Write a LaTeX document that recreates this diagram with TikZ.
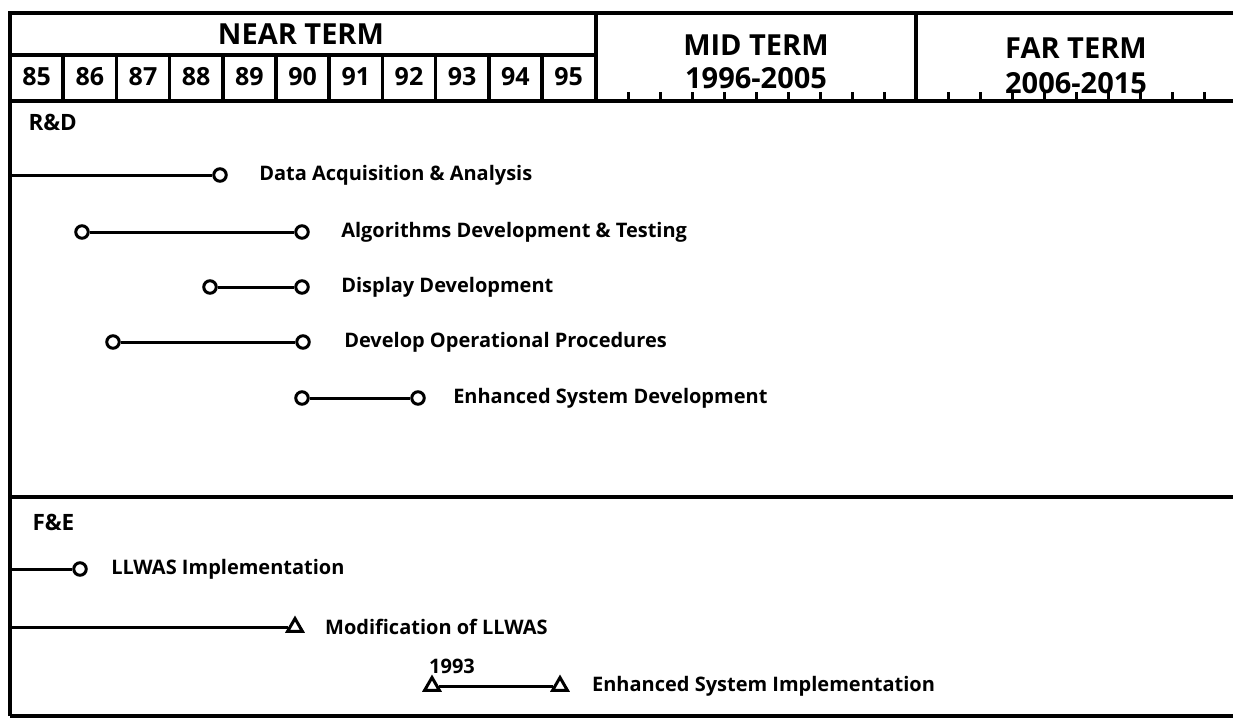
\documentclass[tikz,border=0pt]{standalone}
\usepackage{fontspec}
\setmainfont{Open Sans}
\usetikzlibrary{positioning,shapes.geometric}

\begin{document}
\begin{tikzpicture}[x=1pt,y=-1pt,line width=3pt,inner sep=0pt,
milestone/.style={draw,circle,minimum size=12.5pt,line width=3pt},
endpoint/.style={draw,regular polygon,regular polygon sides=3,minimum size=17pt,line width=3pt},
termhead/.style={font=\bfseries\fontsize{29}{29}\selectfont},
yearcell/.style={font=\bfseries\fontsize{25}{25}\selectfont},
sectionlabel/.style={font=\bfseries\fontsize{22.5}{22.5}\selectfont,anchor=west},
task/.style={font=\bfseries\fontsize{20}{20}\selectfont}]
\useasboundingbox (0,0) rectangle (1233,721);
% frame and header
\draw[line width=3.5pt] (10,716) -- (10,13) -- (1233,13);
\draw[line width=3.5pt] (10,55) -- (596,55);
\draw[line width=4pt] (10,101) -- (1233,101);
\draw[line width=3.5pt] (596,13) -- (596,101);
\draw[line width=3.5pt] (916,13) -- (916,101);
\foreach \i in {1,...,10}
  \draw[line width=3.5pt] (10+53.2*\i,55) -- (10+53.2*\i,101);
\foreach \k in {1,...,9} {
  \draw (596+32*\k,101) -- ++(0,-9);
  \draw (916+32*\k,101) -- ++(0,-9);
}
\node[termhead] (near) at (301,34) {NEAR TERM};
\foreach \yr [count=\i from 0] in {85,...,95}
  \node[yearcell] (y\yr) at (36.6+53.2*\i,77) {\yr};
\node[termhead] (mid) at (756,45) {MID TERM};
\node[termhead] (midyrs) at (756,78) {1996-2005};
\node[termhead] (far) at (1076,48) {FAR TERM};
\node[termhead] (faryrs) at (1076,83) {2006-2015};
% R&D
\node[sectionlabel] (rd) at (27,122) {R\&D};
\coordinate (rdedge) at (10,175);
\node[milestone] (daEnd) at (220,175) {};
\node[task,right=30pt of daEnd] (tData) {Data Acquisition \& Analysis};
\draw (rdedge) -- (daEnd);
\node[milestone] (algStart) at (82,232) {};
\node[milestone] (algEnd) at (302,232) {};
\node[task,right=30pt of algEnd] (tAlg) {Algorithms Development \& Testing};
\draw (algStart) -- (algEnd);
\node[milestone] (dispStart) at (210,287) {};
\node[milestone] (dispEnd) at (302,287) {};
\node[task,right=30pt of dispEnd] (tDisp) {Display Development};
\draw (dispStart) -- (dispEnd);
\node[milestone] (opStart) at (113,342) {};
\node[milestone] (opEnd) at (303,342) {};
\node[task,right=32pt of opEnd] (tOp) {Develop Operational Procedures};
\draw (opStart) -- (opEnd);
\node[milestone] (esdStart) at (302,398) {};
\node[milestone] (esdEnd) at (418,398) {};
\node[task,right=26pt of esdEnd] (tEsd) {Enhanced System Development};
\draw (esdStart) -- (esdEnd);
% F&E
\draw[line width=3.5pt] (10,497) -- (1233,497);
\draw[line width=3.5pt] (10,716) -- (1233,716);
\node[sectionlabel] (fe) at (31,522) {F\&E};
\coordinate (feedgeA) at (10,569);
\node[milestone] (llwasEnd) at (80,569) {};
\node[task,right=22pt of llwasEnd] (tLlwas) {LLWAS Implementation};
\draw (feedgeA) -- (llwasEnd);
\coordinate (feedgeB) at (10,627);
\node[endpoint] (modEnd) at (295,627) {};
\node[task,right=22pt of modEnd] (tMod) {Modification of LLWAS};
\draw (feedgeB) -- (modEnd);
\node[endpoint] (esiStart) at (432,686) {};
\node[endpoint] (esiEnd) at (560,686) {};
\node[task] (yr1993) at (452,666) {1993};
\node[task,right=24pt of esiEnd] (tEsi) {Enhanced System Implementation};
\draw (esiStart) -- (esiEnd);
\end{tikzpicture}
\end{document}
